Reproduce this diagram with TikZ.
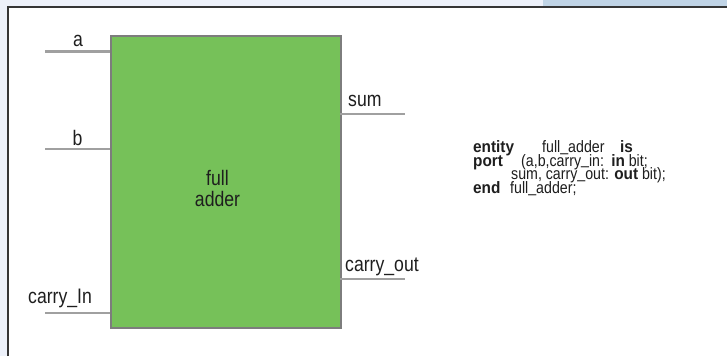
\documentclass[tikz,border=0pt]{standalone}
\usepackage{fontspec}
\setmainfont{Liberation Sans}
\newfontfamily\condfont[FakeStretch=0.84]{Liberation Sans}
\newfontfamily\codefont[FakeStretch=0.86,BoldFeatures={FakeStretch=0.93}]{Liberation Sans}
\newcommand\codeus{\raisebox{1.3pt}{\_}}
\definecolor{outerbg}{RGB}{237,241,250}
\definecolor{bandblue}{RGB}{192,212,230}
\definecolor{boxgreen}{RGB}{118,193,89}
\definecolor{edgegray}{RGB}{125,125,125}
\definecolor{wiregray}{RGB}{160,160,160}
\definecolor{textdark}{RGB}{30,30,30}
\tikzset{
  wire/.style={draw=wiregray, line width=2.6pt},
  lbl/.style={inner sep=0pt, anchor=base west, text=textdark, font=\condfont\fontsize{21}{21}\selectfont},
  codeline/.style={inner sep=0pt, anchor=base west, text=textdark, font=\codefont\fontsize{16.5}{16.5}\selectfont},
  blockbox/.style={fill=boxgreen, draw=edgegray, line width=1.6pt}
}
\begin{document}
\begin{tikzpicture}[x=1pt,y=-1pt]
\useasboundingbox (0,0) rectangle (727,356);
\fill[outerbg] (0,0) rectangle (727,356);
\fill[bandblue] (543,0) rectangle (727,6);
\fill[white] (8.3,6.5) rectangle (727,356);
\draw[textdark!90, line width=2pt] (8.3,356) -- (8.3,6.5) -- (727,6.5);
% block
\node[blockbox, minimum width=230pt, minimum height=292pt, anchor=north west, inner sep=0pt] (fa) at (110,35) {};
\node[inner sep=0pt, align=center, text=textdark, font=\condfont\fontsize{21}{20.5}\selectfont, anchor=base] (falbl) at (217.5,206) {full\\adder};
% inputs
\coordinate (ina) at (45,51.7);
\coordinate (inb) at (45,149);
\coordinate (inc) at (45,313);
\coordinate (fa-a) at (110,51.7);
\coordinate (fa-b) at (110,149);
\coordinate (fa-c) at (110,313);
\draw[wire] (ina) -- (fa-a);
\draw[wire] (inb) -- (fa-b);
\draw[wire] (inc) -- (fa-c);
\coordinate (fa-s) at (340,114);
\coordinate (fa-co) at (340,279);
\coordinate (outs) at (405,114);
\coordinate (outco) at (405,279);
\draw[wire] (fa-s) -- (outs);
\draw[wire] (fa-co) -- (outco);
\node[lbl] (la) at (73,46.7) {a};
\node[lbl] (lb) at (72.5,145.7) {b};
\node[lbl] (lc) at (28,303) {carry\_In};
\node[lbl] (ls) at (348,106.7) {sum};
\node[lbl] (lco) at (345,271.7) {carry\_out};
% code
\node[codeline] (c1) at (473,152.7) {\makebox[69pt][l]{\textbf{entity}}\makebox[78pt][l]{full\codeus adder}\textbf{is}};
\node[codeline] (c2) at (473,166) {\makebox[48pt][l]{\textbf{port}}(a,b,carry\codeus in:\hspace{2pt} \textbf{in} bit;};
\node[codeline] (c3) at (511,179.3) {sum, carry\codeus out: \textbf{out} bit);};
\node[codeline] (c4) at (473,193.3) {\makebox[37pt][l]{\textbf{end}}full\codeus adder;};
\end{tikzpicture}
\end{document}
